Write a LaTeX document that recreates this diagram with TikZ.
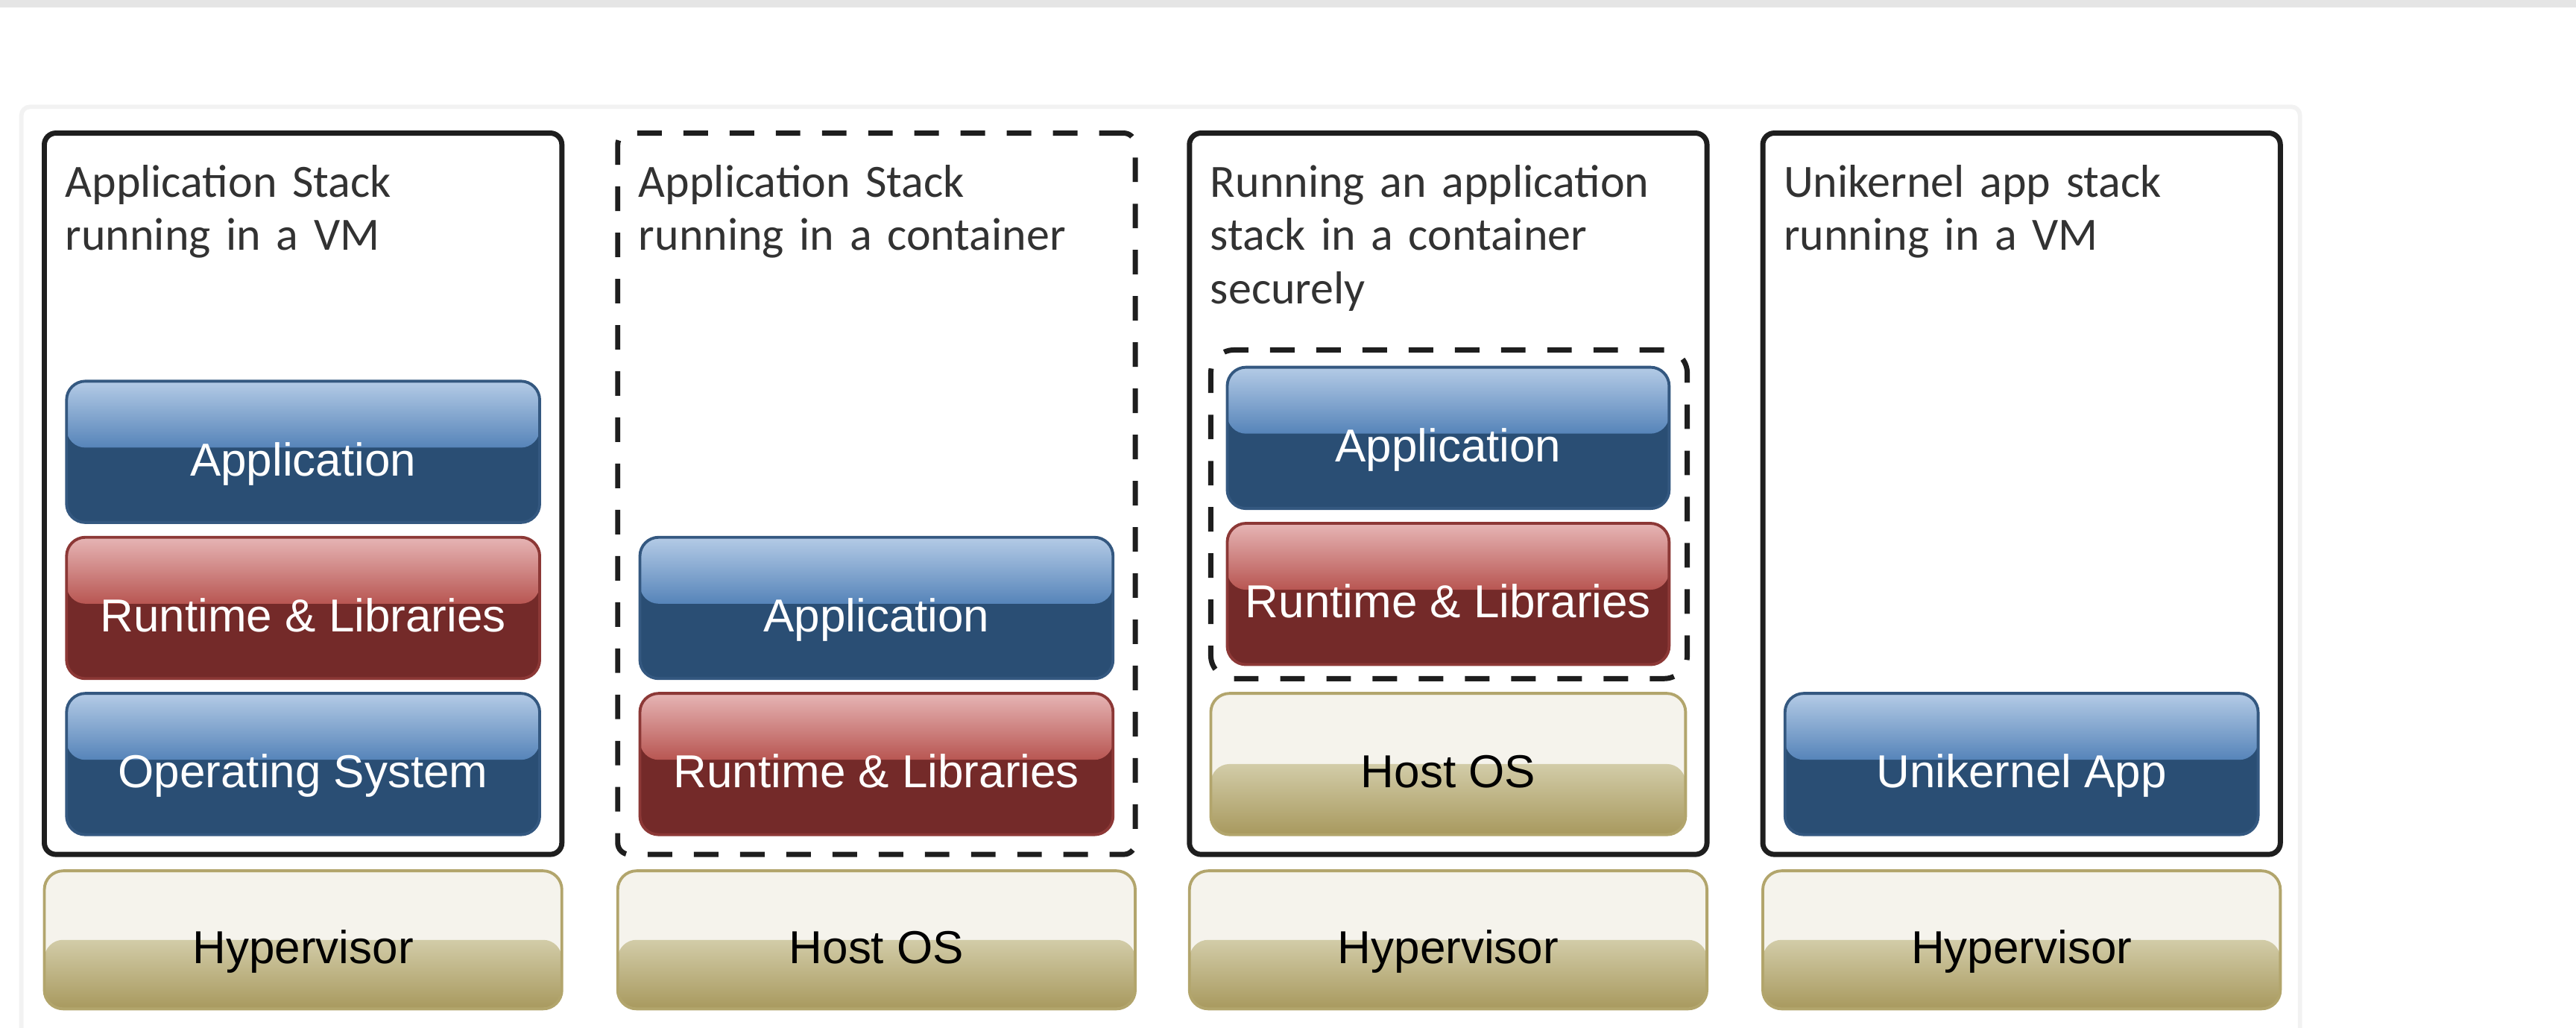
\documentclass[tikz,border=0pt]{standalone}
\usepackage{fontspec}
\usepackage{tikz}
\usetikzlibrary{positioning, calc}
\newfontfamily\titlefont{Carlito}
\newfontfamily\layerfont{Liberation Sans}
\definecolor{appLight}{RGB}{180,203,230}
\definecolor{appMid}{RGB}{86,132,185}
\definecolor{appDark}{RGB}{42,78,116}
\definecolor{appEdge}{RGB}{52,88,128}
\definecolor{rtLight}{RGB}{230,181,181}
\definecolor{rtMid}{RGB}{184,86,82}
\definecolor{rtDark}{RGB}{116,42,41}
\definecolor{rtEdge}{RGB}{140,56,54}
\definecolor{baseTop}{RGB}{245,243,236}
\definecolor{baseLight}{RGB}{210,204,168}
\definecolor{baseDark}{RGB}{168,153,94}
\definecolor{baseEdge}{RGB}{178,165,108}
\definecolor{frameGray}{RGB}{30,30,30}
\definecolor{titleGray}{RGB}{50,50,50}

\tikzset{
  stackbox/.style={draw=frameGray, line width=1.8pt, rounded corners=4pt, minimum width=6.3cm, minimum height=8.78cm, inner sep=0pt},
  dashbox/.style={stackbox, dash pattern=on 8.5pt off 7.5pt},
  stacktitle/.style={font=\titlefont\fontsize{16}{18.5}\selectfont, text=titleGray, align=left, text width=5.8cm, inner sep=0pt, anchor=base west},
  layer/.style={rounded corners=6.5pt, line width=1pt, minimum width=5.76cm, minimum height=1.72cm, inner sep=0pt, text height=0.58cm, text depth=0pt, font=\layerfont\fontsize{16}{18}\selectfont},
  glossy/.style n args={4}{layer, draw=#4, text=white, path picture={
      \fill[#3] (path picture bounding box.south west) rectangle (path picture bounding box.north east);
      \shade[top color=#1, bottom color=#2] (path picture bounding box.north west) rectangle ($(path picture bounding box.north east)!0.47!(path picture bounding box.south east)$);}},
  applayer/.style={glossy={appLight}{appMid}{appDark}{appEdge}},
  rtlayer/.style={glossy={rtLight}{rtMid}{rtDark}{rtEdge}},
  baselayer/.style={layer, draw=baseEdge, text=black, path picture={
      \fill[baseTop] (path picture bounding box.south west) rectangle (path picture bounding box.north east);
      \shade[top color=baseLight, bottom color=baseDark] ($(path picture bounding box.north west)!0.5!(path picture bounding box.south west)$) rectangle (path picture bounding box.south east);}},
}

\begin{document}
\begin{tikzpicture}
  \useasboundingbox (0,0) rectangle (31.36,-12.512);
  % page strip and panel
  \fill[black!10] (0,0) rectangle (31.36,-0.09);
  \draw[black!5, line width=1.5pt, rounded corners=3pt] (0.26,-1.30) rectangle (28.0,-13.0);

  % Stack in a VM
  \node[stackbox] (vm1) at (3.69,-6.01) {};
  \node[stacktitle] (t1) at ($(vm1.north west)+(0.28,-0.81)$) {Application Stack\\running in a VM};
  \node[applayer] (app1) at (3.69,-5.50) {Application};
  \node[rtlayer] (rt1) at (3.69,-7.40) {Runtime \& Libraries};
  \node[applayer] (os1) at (3.69,-9.30) {Operating System};
  \node[baselayer, minimum width=6.3cm, minimum height=1.68cm] (hyp1) at (3.69,-11.44) {Hypervisor};

  % Stack in a container
  \node[dashbox] (ct2) at (10.67,-6.01) {};
  \node[stacktitle] (t2) at ($(ct2.north west)+(0.28,-0.81)$) {Application Stack\\running in a container};
  \node[applayer] (app2) at (10.67,-7.40) {Application};
  \node[rtlayer] (rt2) at (10.67,-9.30) {Runtime \& Libraries};
  \node[baselayer, minimum width=6.3cm, minimum height=1.68cm] (host2) at (10.67,-11.44) {Host OS};

  % Secure container
  \node[stackbox] (vm3) at (17.63,-6.01) {};
  \node[stacktitle] (t3) at ($(vm3.north west)+(0.28,-0.81)$) {Running an application\\stack in a container\\securely};
  \node[dashbox, minimum width=5.8cm, minimum height=4.0cm, rounded corners=8pt] (ct3) at (17.64,-6.26) {};
  \node[applayer, minimum width=5.38cm] (app3) at (17.63,-5.33) {Application};
  \node[rtlayer, minimum width=5.38cm] (rt3) at (17.63,-7.23) {Runtime \& Libraries};
  \node[baselayer, minimum width=5.78cm] (host3) at (17.63,-9.30) {Host OS};
  \node[baselayer, minimum width=6.3cm, minimum height=1.68cm] (hyp3) at (17.63,-11.44) {Hypervisor};

  % Unikernel
  \node[stackbox] (vm4) at (24.61,-6.01) {};
  \node[stacktitle] (t4) at ($(vm4.north west)+(0.28,-0.81)$) {Unikernel app stack\\running in a VM};
  \node[applayer] (uni4) at (24.61,-9.30) {Unikernel App};
  \node[baselayer, minimum width=6.3cm, minimum height=1.68cm] (hyp4) at (24.61,-11.44) {Hypervisor};
\end{tikzpicture}
\end{document}
